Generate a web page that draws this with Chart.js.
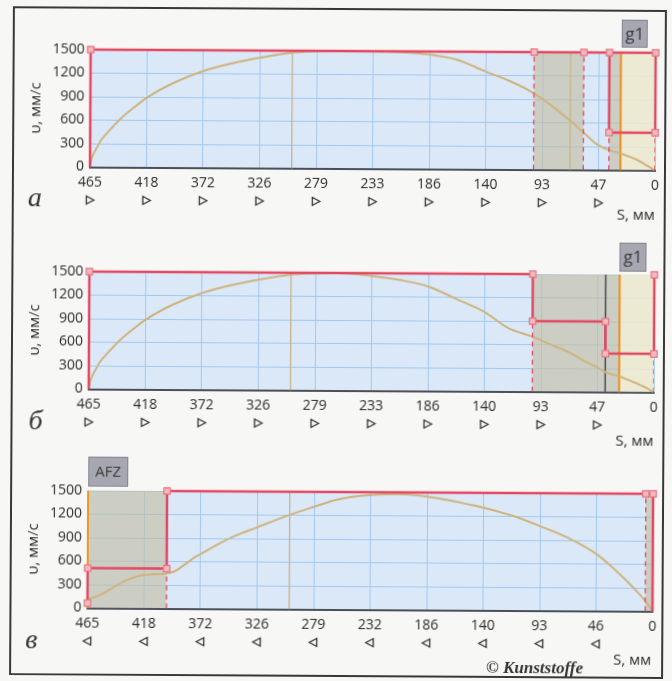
<!DOCTYPE html>
<html>
<head>
<meta charset="utf-8">
<script src="https://cdn.jsdelivr.net/npm/chart.js@4.4.1/dist/chart.umd.min.js"></script>
<style>
  body { margin:0; background:#f7f7f5; }
  #page { position:relative; width:672px; height:681px; overflow:hidden; transform:rotate(0.33deg); }
  .frame { position:absolute; left:11px; top:8px; width:650px; height:665px; border:2px solid #383838; }
  canvas { position:absolute; left:0; }
  .lbl { position:absolute; font-family:'Open Sans',sans-serif; font-size:15px; line-height:15px; color:#2b2b2b; white-space:nowrap; }
  .let { position:absolute; font-family:'Liberation Serif',serif; font-style:italic; font-size:28px; line-height:28px; color:#333; }
  .tag { position:absolute; background:#a7a7b1; border:1px solid #84848e; color:#3a3a3a; font-family:'Open Sans',sans-serif; text-align:center; box-sizing:border-box; }
  .copy { position:absolute; font-family:'Liberation Serif',serif; font-style:italic; font-weight:bold; font-size:17px; line-height:17px; color:#333; }
</style>
</head>
<body>
<div id="page">
  <div class="frame"></div>
  <canvas id="chA" width="672" height="220" style="top:0px"></canvas>
  <canvas id="chB" width="672" height="220" style="top:222px"></canvas>
  <canvas id="chC" width="672" height="220" style="top:441px"></canvas>

  <div class="let" style="left:27px;top:185px">а</div>
  <div class="let" style="left:29px;top:408px">б</div>
  <div class="let" style="left:27px;top:627px">в</div>

  <div class="tag" style="left:620px;top:18px;width:26px;height:28px;font-size:17px;line-height:25px">g1</div>
  <div class="tag" style="left:619px;top:241px;width:27px;height:29px;font-size:17px;line-height:26px">g1</div>
  <div class="tag" style="left:89px;top:458px;width:40px;height:30px;font-size:15px;line-height:27px">AFZ</div>

  <div class="lbl" style="left:616px;top:205px">S, мм</div>
  <div class="lbl" style="left:616px;top:431px">S, мм</div>
  <div class="lbl" style="left:615px;top:650px">S, мм</div>
  <div class="copy" style="left:488px;top:658px">© Kunststoffe</div>
</div>

<script>
// x axis: S, mm (runs from 465 down to 0), ticks every 46.5 mm
const tickPos = [465, 418.5, 372, 325.5, 279, 232.5, 186, 139.5, 93, 46.5, 0];
const tickLabelsAB = ['465','418','372','326','279','233','186','140','93','47','0'];
const tickLabelsC  = ['465','418','372','326','279','232','186','140','93','46','0'];

// panel а
const curveA_s = [465,464,463,461,459,456,452,448,440,429,418,396,372,347,325,300,280,260,233,210,186,163,140,120,100,84,70,59,48,39,29,16,6,0];
const curveA_v = [0,90,140,205,260,345,420,490,620,765,895,1085,1235,1340,1410,1475,1495,1500,1498,1490,1460,1395,1250,1130,975,800,625,478,330,262,215,140,55,0];
const limitA_s = [465,465,0,0,38,38];
const limitA_v = [0,1500,1500,480,480,1500];
const markA_s = [465,100,59,38,0,38,0];
const markA_v = [1500,1500,1500,1500,1500,480,480];
const dashA_s = [100,59,38,0];
const dashA_v = [1500,1500,480,480];
const grayA_from = [100,38], grayA_to = [59,28.5];
const yellowA_from = [28.5], yellowA_to = [0];

// panel б
const curveB_s = [465,464,463,461,459,456,452,448,440,429,418,396,372,347,325,300,280,262,233,210,186,164,140,120,100,84,70,56,47,40,28,16,6,0];
const curveB_v = [0,90,140,205,260,345,420,490,620,765,895,1085,1235,1340,1410,1475,1495,1500,1466,1416,1335,1185,1017,810,700,595,505,385,318,255,200,125,55,0];
const limitB_s = [465,465,100,100,40,40,0,0];
const limitB_v = [0,1500,1500,900,900,490,490,1500];
const markB_s = [465,100,100,40,40,0,0];
const markB_v = [1500,1500,900,900,490,490,1500];
const dashB_s = [100,0];
const dashB_v = [900,490];
const grayB_from = [100], grayB_to = [28.5];
const yellowB_from = [28.5], yellowB_to = [0];

// panel в
const curveC_s = [465,456,445,434,423,418,410,401,393,385,377,372,361,347,326,300,280,262,249,232,210,186,163,140,115,93,70,46,30,16,6,2,0];
const curveC_v = [110,160,254,352,415,428,436,445,479,564,655,699,797,911,1042,1199,1305,1395,1437,1466,1479,1450,1387,1311,1206,1080,933,723,513,303,134,50,0];
const limitC_s = [465,465,400,400,0,0];
const limitC_v = [65,510,510,1500,1500,0];
const markC_s = [465,465,400,400,6,0];
const markC_v = [65,510,510,1500,1500,1500];
const dashC_s = [400,6];
const dashC_v = [510,1500];
const grayC_from = [465,6], grayC_to = [400,0];

// vertical reference lines
const tanLine = 299;
const tanLineA2 = 70;
const orangeLineAB = 28.5;
const darkLineB = 40;
const orangeLineC = 465;

const RED = 'rgb(226,72,98)';
const TXT = '#2a2a2a';
const FONT = "'Open Sans', sans-serif";

const pts = (xs, ys) => xs.map((x, i) => ({x: x, y: ys[i]}));
const vline = (s, top) => [{x: s, y: 0}, {x: s, y: top}];

const bgPlugin = {
  id: 'bg',
  beforeDraw(chart) {
    const a = chart.chartArea, ctx = chart.ctx;
    ctx.save();
    ctx.fillStyle = 'rgb(219,232,248)';
    ctx.fillRect(a.left, a.top, a.right - a.left, a.bottom - a.top);
    ctx.restore();
  }
};

// small outlined triangles under the x tick labels (none under 0)
const triPlugin = {
  id: 'tri',
  afterDraw(chart, args, opts) {
    const xs = chart.scales.x, ctx = chart.ctx;
    const y = chart.chartArea.bottom + 33;
    const d = opts.dir;
    ctx.save();
    ctx.strokeStyle = '#333';
    ctx.lineWidth = 1.3;
    xs.ticks.forEach(t => {
      if (t.value === 0) return;
      const px = xs.getPixelForValue(t.value);
      ctx.beginPath();
      ctx.moveTo(px - 3.5 * d, y - 4);
      ctx.lineTo(px + 4 * d, y);
      ctx.lineTo(px - 3.5 * d, y + 4);
      ctx.closePath();
      ctx.stroke();
    });
    ctx.restore();
  }
};

function band(from, to, color) {
  return {data: [{x: from, y: 1500}, {x: to, y: 1500}], fill: 'origin', backgroundColor: color,
          borderWidth: 0, pointRadius: 0, order: 9};
}

function panel(id, p) {
  const ds = [];
  ds.push({data: pts(p.markS, p.markV), showLine: false, pointStyle: 'rect', pointRadius: 4.5,
           pointBackgroundColor: 'rgb(243,185,188)', pointBorderColor: 'rgb(228,118,132)',
           pointBorderWidth: 1.2, clip: false, order: 0});
  ds.push({data: pts(p.limS, p.limV), borderColor: RED, borderWidth: 2.5, pointRadius: 0,
           tension: 0, clip: false, order: 1});
  p.dashS.forEach((s, i) => ds.push({data: vline(s, p.dashV[i]), borderColor: RED, borderWidth: 1.3,
           borderDash: [5, 4], pointRadius: 0, order: 2}));
  ds.push({data: pts(p.curveS, p.curveV), borderColor: 'rgb(206,180,126)', borderWidth: 2,
           pointRadius: 0, cubicInterpolationMode: 'monotone', order: 3});
  p.lines.forEach(l => ds.push({data: vline(l[0], 1500), borderColor: l[1], borderWidth: l[2],
           pointRadius: 0, clip: false, order: 4}));
  p.gray.forEach(g => ds.push(band(g[0], g[1], 'rgba(196,190,164,0.62)')));
  p.yellow.forEach(g => ds.push(band(g[0], g[1], 'rgba(240,234,204,0.82)')));

  new Chart(document.getElementById(id), {
    type: 'line',
    data: {datasets: ds},
    options: {
      responsive: false,
      animation: false,
      layout: {padding: {top: 51, right: 18, left: 0, bottom: 0}},
      plugins: {legend: {display: false}, tooltip: {enabled: false}, tri: {dir: p.dir}},
      scales: {
        x: {
          type: 'linear', reverse: true, min: 0, max: 465,
          afterBuildTicks: s => { s.ticks = tickPos.map(v => ({value: v})); },
          afterFit: s => { s.height = 51.5; },
          ticks: {autoSkip: false, maxRotation: 0, padding: 7, color: TXT, font: {family: FONT, size: 14},
                  callback: v => p.labels[tickPos.indexOf(v)]},
          grid: {color: 'rgb(162,200,240)', drawTicks: false},
          border: {display: true, color: '#4a5056', width: 2}
        },
        y: {
          min: 0, max: 1500,
          afterFit: s => { s.width = 89; },
          ticks: {stepSize: 300, padding: 6, color: TXT, font: {family: FONT, size: 14},
                  callback: v => String(v)},
          grid: {color: 'rgb(162,200,240)', drawTicks: false},
          border: {display: false},
          title: {display: true, text: 'υ, мм/с', color: TXT, padding: {top: 26, bottom: 0},
                  font: {family: FONT, size: 15}}
        }
      }
    },
    plugins: [bgPlugin, triPlugin]
  });
}

const zip = (a, b) => a.map((v, i) => [v, b[i]]);

panel('chA', {
  dir: 1, labels: tickLabelsAB,
  curveS: curveA_s, curveV: curveA_v, limS: limitA_s, limV: limitA_v,
  markS: markA_s, markV: markA_v, dashS: dashA_s, dashV: dashA_v,
  lines: [[tanLine, 'rgb(196,176,128)', 1.2], [tanLineA2, 'rgb(200,180,122)', 1.2], [orangeLineAB, 'rgb(240,140,28)', 2]],
  gray: zip(grayA_from, grayA_to), yellow: zip(yellowA_from, yellowA_to)
});
panel('chB', {
  dir: 1, labels: tickLabelsAB,
  curveS: curveB_s, curveV: curveB_v, limS: limitB_s, limV: limitB_v,
  markS: markB_s, markV: markB_v, dashS: dashB_s, dashV: dashB_v,
  lines: [[tanLine, 'rgb(196,176,128)', 1.2], [darkLineB, 'rgb(72,70,80)', 1.5], [orangeLineAB, 'rgb(240,140,28)', 2]],
  gray: zip(grayB_from, grayB_to), yellow: zip(yellowB_from, yellowB_to)
});
panel('chC', {
  dir: -1, labels: tickLabelsC,
  curveS: curveC_s, curveV: curveC_v, limS: limitC_s, limV: limitC_v,
  markS: markC_s, markV: markC_v, dashS: dashC_s, dashV: dashC_v,
  lines: [[tanLine, 'rgb(196,176,128)', 1.2], [orangeLineC, 'rgb(240,150,40)', 2]],
  gray: zip(grayC_from, grayC_to), yellow: []
});
</script>
</body>
</html>
